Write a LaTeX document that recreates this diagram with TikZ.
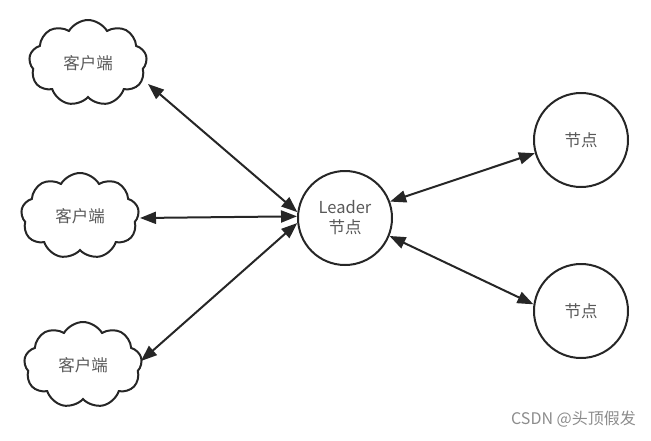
\documentclass[tikz,border=0pt]{standalone}
\usepackage{fontspec}
\setmainfont{Noto Sans CJK SC}
\usetikzlibrary{shapes.symbols,arrows.meta}
\begin{document}
\begin{tikzpicture}[x=1pt,y=-1pt,
  client/.style={cloud, cloud puffs=9, cloud puff arc=120, aspect=1.35, draw=black!85, line width=2pt, minimum width=118pt, minimum height=86pt, inner sep=0pt, font=\fontsize{16.5}{19}\selectfont, text=black!65},
  srv/.style={circle, draw=black!85, line width=2pt, minimum size=94pt, inner sep=0pt, font=\fontsize{16.5}{20}\selectfont, text=black!65, align=center},
  link/.style={{Triangle[length=16pt,width=12pt]}-{Triangle[length=16pt,width=12pt]}, line width=2pt, draw=black!85}]
\useasboundingbox (0,0) rectangle (651,440);
\node[client] (c1) at (88,63) {客户端};
\node[client] (c2) at (80,216) {客户端};
\node[client] (c3) at (83,365) {客户端};
\node[srv] (L) at (345,218) {Leader\\节点};
\node[srv] (n1) at (581,140) {节点};
\node[srv] (n2) at (581,311) {节点};
\draw[link] (148,84) -- (L.173);
\draw[link] (140,218) -- (L.178);
\draw[link] (141,361) -- (L.186);
\draw[link] (L.20) -- (n1.196);
\draw[link] (L.-22) -- (n2.172);
\node[text=black!45, font=\fontsize{16}{18}\selectfont, anchor=east, inner sep=0pt] (wm) at (636,419) {CSDN @头顶假发};
\end{tikzpicture}
\end{document}
